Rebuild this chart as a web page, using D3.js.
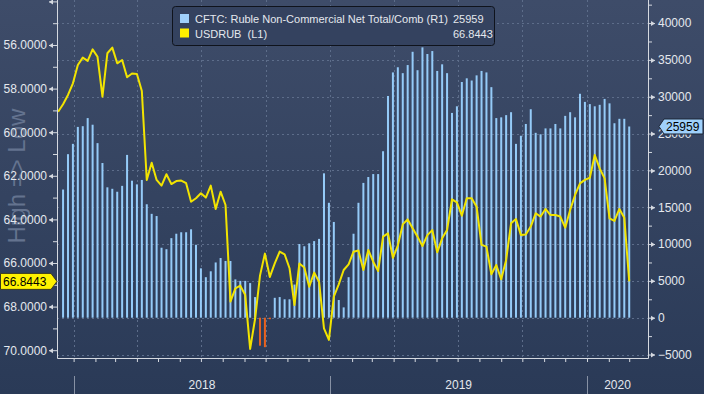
<!DOCTYPE html>
<html>
<head>
<meta charset="utf-8">
<script src="https://cdn.jsdelivr.net/npm/d3@7"></script>
<style>
  body { margin: 0; background: #2a3a57; }
  text { font-family: "Liberation Sans", Arial, sans-serif; }
</style>
</head>
<body>
<svg id="chart" width="704" height="394"></svg>
<script>
// weekly CFTC ruble net positions (R1), first week and values
const cftcStart = '2017-12-17'
const cftcNet = [
  17400, 22200, 23600, 25900, 26000, 27100, 26200, 23700, 21000, 17700,
  17500, 17100, 17900, 22100, 18600, 18100, 18700, 15400, 14100, 13800,
  9500, 9300, 10800, 11400, 11600, 11600, 12000, 9900, 6700, 5500,
  6300, 7500, 8100, 7700, 7700, 5200, 5000, 5000, 4700, 2800,
  -3800, -4000, -200, 2700, 2800, 2500, 2500, 4500, 10000, 9700,
  10100, 10400, 10700, 19600, 15600, 13000, 2400, 1400, 5500, 11400,
  15600, 18300, 19100, 19500, 19500, 22600, 30100, 33300, 34000, 33200,
  34300, 36100, 33600, 36700, 35800, 36200, 33500, 34400, 33200, 27800,
  28700, 32000, 32500, 32200, 32900, 33500, 33300, 31300, 27100, 27200,
  27500, 27900, 23600, 24700, 26300, 28300, 25100, 24900, 25700, 25700,
  26300, 25700, 27400, 27900, 27200, 30400, 29300, 29000, 28700, 28900,
  29700, 29100, 26400, 27000, 27000, 25959
]

// weekly USDRUB (L1, inverted axis)
const rubStart = '2017-12-10'
const usdrub = [
  59.06, 58.72, 58.29, 57.76, 56.92, 56.58, 56.73, 56.20, 56.54, 58.37,
  56.38, 56.12, 56.84, 56.69, 57.48, 57.31, 57.33, 58.11, 62.19, 61.40,
  62.19, 62.45, 61.93, 62.38, 62.24, 62.22, 62.34, 63.19, 63.03, 62.80,
  63.00, 62.45, 63.52, 62.73, 63.34, 67.77, 67.16, 67.04, 67.47, 69.94,
  68.57, 66.58, 65.57, 66.64, 66.02, 65.48, 65.60, 66.24, 67.93, 66.02,
  66.21, 67.09, 66.44, 66.86, 69.00, 69.53, 67.54, 66.98, 66.32, 66.06,
  65.48, 65.43, 66.32, 65.40, 65.94, 66.37, 64.79, 64.64, 65.76, 65.20,
  64.23, 64.00, 64.41, 64.79, 65.22, 64.72, 64.49, 65.51, 64.87, 64.49,
  63.08, 63.22, 63.83, 63.03, 63.03, 63.42, 65.17, 65.25, 66.52, 66.09,
  66.75, 65.86, 64.18, 63.98, 64.72, 64.69, 64.33, 63.72, 63.87, 63.52,
  63.80, 63.80, 63.87, 64.38, 63.57, 62.88, 62.35, 62.19, 62.09, 61.05,
  61.66, 62.12, 63.95, 64.07, 63.52, 63.92, 66.8443
]

const leftMajor = [54, 56, 58, 60, 62, 64, 66, 68, 70]
const leftMinor = [55, 57, 59, 61, 63, 65, 67, 69]
const rightMajor = [-5000, 0, 5000, 10000, 15000, 20000, 25000, 30000, 35000, 40000]
const rightMinor = [-2500, 2500, 7500, 12500, 17500, 22500, 27500, 32500, 37500, 42500]
const years = ['2018', '2019', '2020']

const cftcLabel = 'CFTC: Ruble Non-Commercial Net Total/Comb (R1)'
const rubLabel = 'USDRUB\u00a0\u00a0(L1)'

const W = 704, H = 394
const pl = 57, pr = 648, pt = 0, pb = 358

const parse = d3.utcParse('%Y-%m-%d')
const cftc = cftcNet.map((v, i) => ({ date: d3.utcWeek.offset(parse(cftcStart), i), value: v }))
const rub = usdrub.map((v, i) => ({ date: d3.utcWeek.offset(parse(rubStart), i), value: v }))

const svg = d3.select('#chart')

const defs = svg.append('defs')
const grad = defs.append('linearGradient').attr('id', 'bg')
    .attr('x1', 0).attr('y1', 0).attr('x2', 0).attr('y2', 1)
grad.append('stop').attr('offset', '0%').attr('stop-color', '#3e4c69')
grad.append('stop').attr('offset', '100%').attr('stop-color', '#2a3a57')
defs.append('clipPath').attr('id', 'plotclip')
    .append('rect').attr('x', pl).attr('y', pt).attr('width', pr - pl).attr('height', pb - pt)

svg.append('rect').attr('width', W).attr('height', H).attr('fill', 'url(#bg)')

let x = d3.scaleTime()
    .domain([new Date(Date.UTC(2017, 11, 8, 9)), new Date(Date.UTC(2020, 2, 27, 17))])
    .range([pl, pr])

let yL = d3.scaleLinear().domain([53.936, 70.358]).range([pt, pb])
let yR = d3.scaleLinear().domain([43131, -5471]).range([pt, pb])

// grid
let grid = svg.append('g').attr('stroke', '#5d6d8a').attr('stroke-dasharray', '2,3').attr('stroke-width', 1)
grid.selectAll('.h').data(rightMajor).join('line')
    .attr('x1', pl).attr('x2', pr)
    .attr('y1', d => Math.round(yR(d)) + 0.5).attr('y2', d => Math.round(yR(d)) + 0.5)
grid.selectAll('.v').data(d3.utcMonth.every(3).range(x.domain()[0], x.domain()[1])).join('line')
    .attr('y1', pt).attr('y2', pb)
    .attr('x1', d => Math.round(x(d)) + 0.5).attr('x2', d => Math.round(x(d)) + 0.5)

// watermark
svg.append('text')
    .attr('transform', 'translate(25,176) rotate(-90)')
    .attr('text-anchor', 'middle')
    .attr('font-size', 24)
    .attr('fill', '#64738f')
    .text('High => Low')

// bars
let plot = svg.append('g').attr('clip-path', 'url(#plotclip)')
plot.selectAll('.bar').data(cftc).join('rect')
    .attr('x', d => x(d.date) - 1)
    .attr('width', 2)
    .attr('y', d => Math.min(yR(d.value), yR(0)))
    .attr('height', d => Math.abs(yR(d.value) - yR(0)))
    .attr('fill', d => d.value < 0 ? '#e8621e' : '#95cbf8')

// line
plot.append('path')
    .datum(rub)
    .attr('fill', 'none')
    .attr('stroke', '#f2e400')
    .attr('stroke-width', 2)
    .attr('stroke-linejoin', 'round')
    .attr('d', d3.line().x(d => x(d.date)).y(d => yL(d.value)))

// axes
const axisCol = '#d5d9e0'
const labelCol = '#e4e8ee'

// the top label (54) sits off the picture, so only its tick shows
let leftAx = svg.append('g').attr('transform', `translate(${pl},0)`)
    .call(d3.axisLeft(yL).tickValues(leftMajor)
        .tickFormat(d => d === leftMajor[0] ? '' : d3.format('.4f')(d))
        .tickSize(8).tickSizeOuter(0).tickPadding(2))
leftAx.select('.domain').remove()
leftAx.selectAll('.tick').append('path').attr('d', 'M-8,0L-4,-2.5L-4,2.5Z').attr('fill', axisCol)
svg.append('g').attr('transform', `translate(${pl},0)`)
    .call(d3.axisLeft(yL).tickValues(leftMinor).tickFormat('').tickSize(4).tickSizeOuter(0))
    .select('.domain').remove()

let rightAx = svg.append('g').attr('transform', `translate(${pr},0)`)
    .call(d3.axisRight(yR).tickValues(rightMajor).tickFormat(d3.format('d')).tickSize(7).tickSizeOuter(0).tickPadding(3))
rightAx.select('.domain').remove()
rightAx.selectAll('.tick').append('path').attr('d', 'M7,0L3,-2.5L3,2.5Z').attr('fill', axisCol)
svg.append('g').attr('transform', `translate(${pr},0)`)
    .call(d3.axisRight(yR).tickValues(rightMinor).tickFormat('').tickSize(4).tickSizeOuter(0))
    .select('.domain').remove()

let bottomAx = svg.append('g').attr('transform', `translate(0,${pb})`)
    .call(d3.axisBottom(x).ticks(d3.utcMonth.every(1)).tickFormat('').tickSize(4).tickSizeOuter(0))
bottomAx.select('.domain').remove()

svg.selectAll('.tick line').attr('stroke', axisCol)
svg.selectAll('.tick text').attr('fill', labelCol).attr('font-size', 12)
    .attr('font-family', '"Liberation Sans", Arial, sans-serif')

// frame
svg.append('path')
    .attr('d', `M${pl + 0.5},${pt}V${pb + 0.5}H${pr + 0.5}V${pt}`)
    .attr('fill', 'none').attr('stroke', axisCol)

// year band
let yearStarts = years.map(y => d3.utcParse('%Y')(y))
svg.selectAll('.ysep').data(yearStarts).join('line')
    .attr('x1', d => Math.round(x(d)) + 0.5).attr('x2', d => Math.round(x(d)) + 0.5)
    .attr('y1', 376).attr('y2', H)
    .attr('stroke', '#8791a4')
svg.selectAll('.ylab').data(yearStarts).join('text')
    .attr('x', d => {
        let a = Math.max(x(d), pl)
        let b = Math.min(x(d3.utcYear.offset(d, 1)), pr)
        return (a + b) / 2
    })
    .attr('y', 389)
    .attr('text-anchor', 'middle')
    .attr('font-size', 12)
    .attr('fill', labelCol)
    .text((d, i) => years[i])

// legend
let lg = svg.append('g')
lg.append('rect').attr('x', 172.5).attr('y', 6.5).attr('width', 322).attr('height', 39).attr('rx', 3)
    .attr('fill', '#34425f').attr('stroke', '#0f131c')
lg.append('rect').attr('x', 180).attr('y', 14).attr('width', 9).attr('height', 9).attr('fill', '#9fd0fb')
lg.append('rect').attr('x', 180).attr('y', 28.5).attr('width', 9).attr('height', 9).attr('fill', '#fff000')
lg.append('text').attr('x', 195).attr('y', 23).attr('font-size', 11).attr('fill', labelCol).text(cftcLabel)
lg.append('text').attr('x', 195).attr('y', 37.5).attr('font-size', 11).attr('fill', labelCol).text(rubLabel)
lg.append('text').attr('x', 453).attr('y', 23).attr('font-size', 11).attr('fill', labelCol)
    .text(d3.format('d')(cftcNet[cftcNet.length - 1]))
lg.append('text').attr('x', 453).attr('y', 37.5).attr('font-size', 11).attr('fill', labelCol)
    .text(d3.format('.4f')(usdrub[usdrub.length - 1]))

// last value tags
let ly = yL(usdrub[usdrub.length - 1])
svg.append('path')
    .attr('d', `M0.5,${ly - 8}H51L57,${ly}L51,${ly + 8}H0.5Z`)
    .attr('fill', '#fff200').attr('stroke', '#3a3a20')
svg.append('text').attr('x', 3).attr('y', ly).attr('dy', '0.36em')
    .attr('font-size', 12).attr('fill', '#000')
    .text(d3.format('.4f')(usdrub[usdrub.length - 1]))

let ry = yR(cftcNet[cftcNet.length - 1])
svg.append('path')
    .attr('d', `M659,${ry}L664,${ry - 7.5}H703V${ry + 7.5}H664Z`)
    .attr('fill', '#9fd0fb').attr('stroke', '#1d2535')
svg.append('text').attr('x', 666).attr('y', ry).attr('dy', '0.36em')
    .attr('font-size', 12).attr('fill', '#000')
    .text(d3.format('d')(cftcNet[cftcNet.length - 1]))
</script>
</body>
</html>
